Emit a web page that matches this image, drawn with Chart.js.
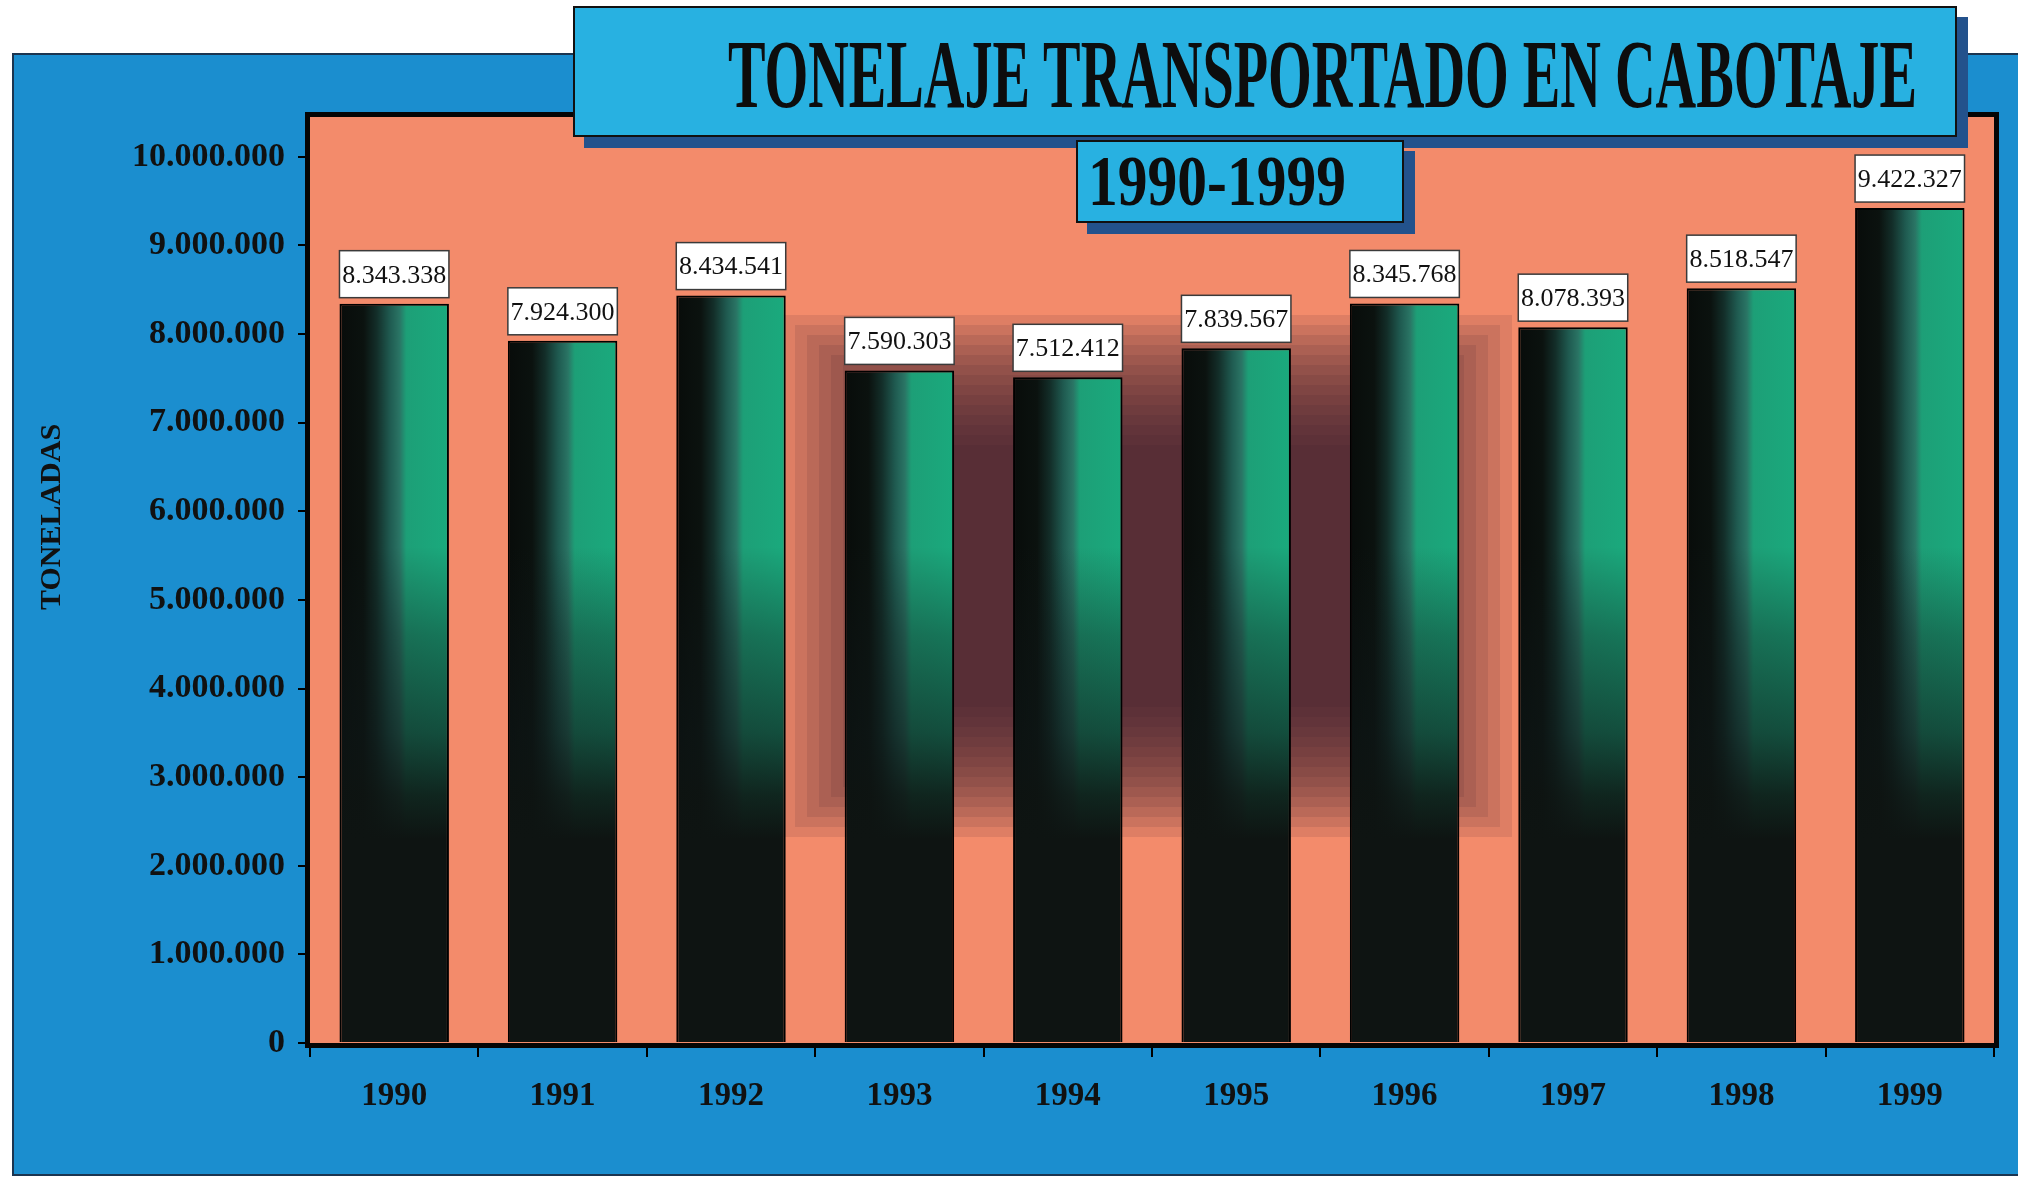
<!DOCTYPE html>
<html>
<head>
<meta charset="utf-8">
<script src="https://cdn.jsdelivr.net/npm/chart.js@4.4.0/dist/chart.umd.min.js"></script>
<style>
body{margin:0;background:#fff;}
#wrap{position:relative;width:2018px;height:1178px;overflow:hidden;}
#cabotaje{display:block;}
.box{position:absolute;background:#28b1e1;border:2px solid #111;box-shadow:11px 11px 0 #23528c;}
.box span{position:absolute;white-space:nowrap;font-family:'Liberation Serif','Times New Roman',serif;font-weight:bold;color:#0d0d0d;transform-origin:0 0;}
</style>
</head>
<body>
<div id="wrap">
<canvas id="cabotaje" width="2018" height="1178"></canvas>
<div class="box" style="left:573px;top:6px;width:1380px;height:127px"><span style="left:153px;top:17px;font-size:98px;line-height:98px" data-w="1189">TONELAJE TRANSPORTADO EN CABOTAJE</span></div>
<div class="box" style="left:1076px;top:140px;width:324px;height:79px"><span style="left:10px;top:3px;font-size:72px;line-height:72px" data-w="258">1990-1999</span></div>
</div>
<script>
var anios = ['1990', '1991', '1992', '1993', '1994', '1995', '1996', '1997', '1998', '1999'];
var toneladas = [8343338, 7924300, 8434541, 7590303, 7512412, 7839567, 8345768, 8078393, 8518547, 9422327];
var marcasY = [0, 1000000, 2000000, 3000000, 4000000, 5000000, 6000000, 7000000, 8000000, 9000000, 10000000];
var ejeY = 'TONELADAS';

// condensed title text
document.querySelectorAll('.box span').forEach(function (s) {
    var w = s.getBoundingClientRect().width;
    s.style.transform = 'scaleX(' + (parseFloat(s.dataset.w) / w) + ')';
});

function puntos(v) {
    return String(v).replace(/\B(?=(\d{3})+(?!\d))/g, '.');
}

// bar fill: black -> teal -> green across, fading to black towards the base
function relleno(ctx) {
    var chart = ctx.chart;
    var area = chart.chartArea;
    if (!area || ctx.dataIndex === undefined) return '#101614';
    var xs = chart.scales.x, ys = chart.scales.y;
    var bw = xs.width / anios.length * 0.65;
    var left = xs.getPixelForValue(ctx.dataIndex) - bw / 2;
    var h = area.bottom - area.top;
    var c = document.createElement('canvas');
    c.width = Math.ceil(bw) + 2;
    c.height = Math.ceil(h) + 2;
    var g = c.getContext('2d');
    var hg = g.createLinearGradient(0, 0, bw, 0);
    hg.addColorStop(0, '#080c0a');
    hg.addColorStop(0.22, '#0b120f');
    hg.addColorStop(0.34, '#132e29');
    hg.addColorStop(0.46, '#1f5a50');
    hg.addColorStop(0.55, '#2a7565');
    hg.addColorStop(0.61, '#1d9f77');
    hg.addColorStop(1, '#1aaa7d');
    g.fillStyle = hg;
    g.fillRect(0, 0, c.width, c.height);
    var yv = function (v) { return (ys.getPixelForValue(v) - area.top) / h; };
    var vg = g.createLinearGradient(0, 0, 0, h);
    vg.addColorStop(yv(5600000), 'rgba(14,22,22,0)');
    vg.addColorStop(yv(4600000), 'rgba(14,22,22,0.35)');
    vg.addColorStop(yv(3500000), 'rgba(14,22,22,0.62)');
    vg.addColorStop(yv(2800000), 'rgba(14,20,18,0.88)');
    vg.addColorStop(yv(2300000), 'rgba(14,20,18,1)');
    vg.addColorStop(1, 'rgba(14,20,18,1)');
    g.fillStyle = vg;
    g.fillRect(0, 0, c.width, c.height);
    var p = chart.ctx.createPattern(c, 'no-repeat');
    p.setTransform(new DOMMatrix([1, 0, 0, 1, left, area.top]));
    return p;
}

var fondo = {
    id: 'fondo',
    beforeDraw: function (chart) {
        var ctx = chart.ctx, a = chart.chartArea;
        ctx.save();
        ctx.fillStyle = '#fff';
        ctx.fillRect(0, 0, chart.width, chart.height);
        ctx.fillStyle = '#1b8ecf';
        ctx.fillRect(13, 54, chart.width - 13, 1121);
        ctx.strokeStyle = '#1b3550';
        ctx.lineWidth = 2;
        ctx.strokeRect(13, 54, chart.width, 1121);
        ctx.fillStyle = '#f38b6b';
        ctx.fillRect(a.left, a.top, a.right - a.left, a.bottom - a.top);
        // blurred dark shadow behind the middle bars
        for (var i = 0; i < 14; i++) {
            ctx.fillStyle = 'rgba(55,30,45,0.11)';
            ctx.fillRect(783 + i * 12, 315 + i * 10, 729 - i * 24, 522 - i * 20);
        }
        ctx.restore();
    },
    afterDatasetsDraw: function (chart) {
        var ctx = chart.ctx, a = chart.chartArea;
        var meta = chart.getDatasetMeta(0);
        ctx.save();
        meta.data.forEach(function (bar, i) {
            var p = bar.getProps(['x', 'y', 'width'], true);
            var bx = p.x - p.width / 2, by = p.y - 6 - 47;
            ctx.fillStyle = '#fff';
            ctx.fillRect(bx, by, p.width, 47);
            ctx.strokeStyle = '#3a3a3a';
            ctx.lineWidth = 1.5;
            ctx.strokeRect(bx, by, p.width, 47);
            ctx.fillStyle = '#111';
            ctx.font = '26px "Liberation Serif"';
            ctx.textAlign = 'center';
            ctx.textBaseline = 'middle';
            ctx.fillText(puntos(toneladas[i]), p.x, by + 25);
        });
        ctx.strokeStyle = '#050505';
        ctx.lineWidth = 5;
        ctx.strokeRect(a.left - 2.5, a.top - 2.5, a.right - a.left + 5, a.bottom - a.top + 5);
        ctx.restore();
    },
    afterDraw: function (chart) {
        var ctx = chart.ctx;
        ctx.save();
        ctx.translate(52, 517);
        ctx.rotate(-Math.PI / 2);
        ctx.font = 'bold 30px "Liberation Serif"';
        ctx.fillStyle = '#111';
        ctx.textAlign = 'center';
        ctx.textBaseline = 'middle';
        ctx.fillText(ejeY, 0, 0);
        ctx.restore();
    }
};

var chart = new Chart(document.getElementById('cabotaje'), {
    type: 'bar',
    data: {
        labels: anios,
        datasets: [{
            label: 'Toneladas',
            data: toneladas,
            backgroundColor: relleno,
            borderColor: '#000',
            borderWidth: 2,
            categoryPercentage: 1,
            barPercentage: 0.65
        }]
    },
    options: {
        responsive: false,
        animation: false,
        events: [],
        layout: { padding: { left: 13, top: 117, right: 24, bottom: 0 } },
        plugins: {
            legend: { display: false },
            tooltip: { enabled: false }
        },
        scales: {
            x: {
                afterFit: function (s) { s.height = 135; },
                border: { display: false },
                grid: { drawOnChartArea: false, drawTicks: true, tickLength: 14, color: '#000', lineWidth: 2 },
                ticks: {
                    padding: 20,
                    color: '#111',
                    font: { family: 'Liberation Serif', weight: 'bold', size: 33 }
                }
            },
            y: {
                min: 0,
                max: 10450000,
                afterFit: function (s) { s.width = 297; },
                afterBuildTicks: function (s) {
                    s.ticks = marcasY.map(function (v) { return { value: v }; });
                },
                border: { display: false },
                grid: { drawOnChartArea: false, drawTicks: true, tickLength: 12, color: '#000', lineWidth: 2 },
                ticks: {
                    padding: 13,
                    color: '#111',
                    font: { family: 'Liberation Serif', weight: 'bold', size: 34 },
                    callback: function (v) { return puntos(v); }
                }
            }
        }
    },
    plugins: [fondo]
});
</script>
</body>
</html>
